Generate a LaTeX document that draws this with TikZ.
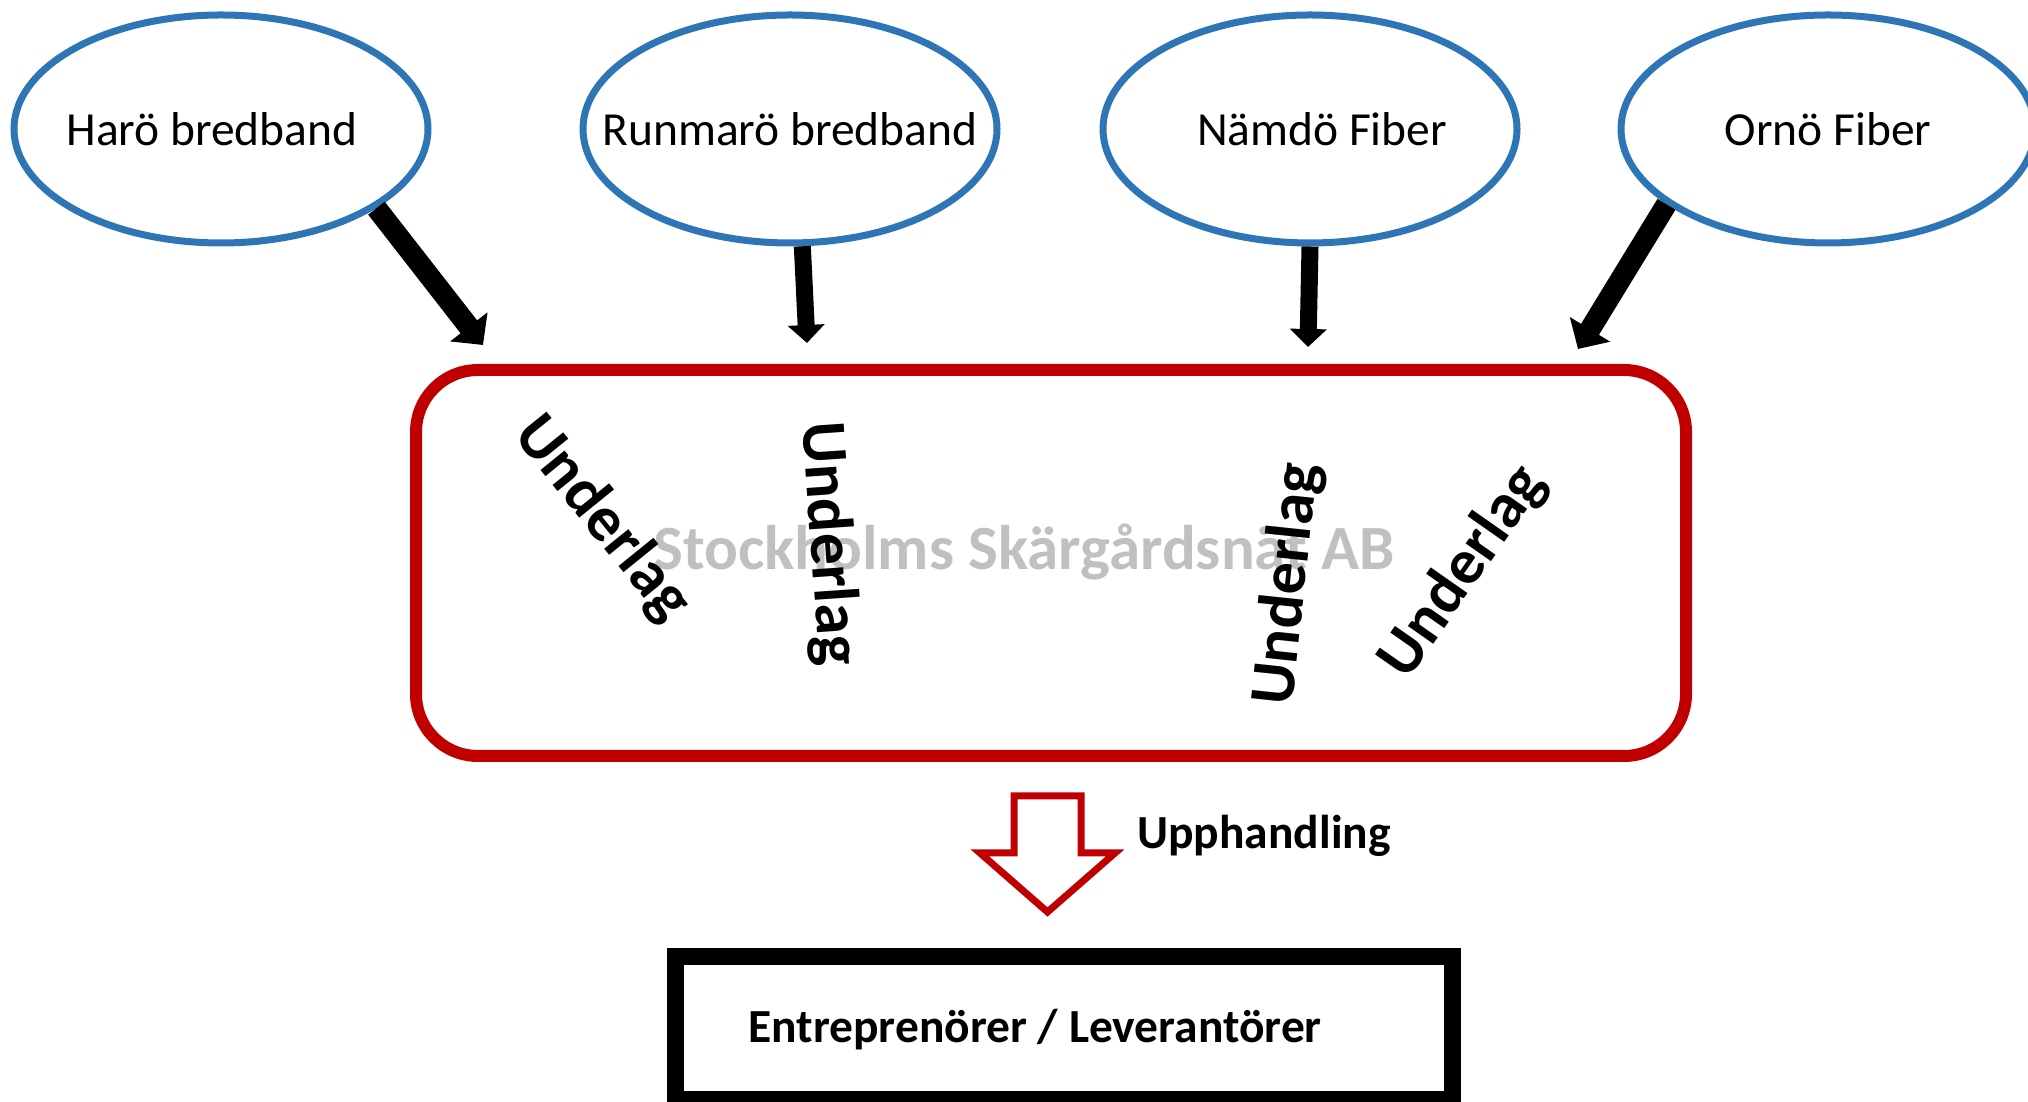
\documentclass[tikz,border=0pt]{standalone}
\usepackage{fontspec}
\setmainfont{Carlito}
\usepackage{tikz}
\usepackage{xcolor}
\usetikzlibrary{arrows.meta}
\usetikzlibrary{shapes.geometric}

\definecolor{coopblue}{HTML}{2E75B6}
\definecolor{ssnred}{HTML}{C00000}
\definecolor{ssngray}{HTML}{C0C0C0}

\begin{document}
\begin{tikzpicture}[x=0.5pt,y=0.5pt,
                    coop node/.style={ellipse,draw=coopblue,line width=3.5pt,inner sep=0pt,
                      minimum width=207pt,minimum height=114pt,font=\fontsize{23.75}{28}\selectfont},
                    basis/.style={inner sep=0pt,font=\fontsize{32}{38}\selectfont\bfseries},
                    feed/.style={line width=10.5pt,-{Triangle[width=23pt,length=11.5pt]}},
                    thin feed/.style={line width=8.5pt,-{Triangle[width=18pt,length=9pt]}}]

  \useasboundingbox (0,0) rectangle (2028,1102);

  % the four local networks
  \node[coop node] (haro) at (221,973) {\makebox[0pt]{\kern-9pt Harö bredband}};
  \node[coop node] (runmaro) at (790,973) {\makebox[0pt]{Runmarö bredband}};
  \node[coop node] (namdo) at (1310,973) {\makebox[0pt]{\kern12pt Nämdö Fiber}};
  \node[coop node] (orno) at (1828,973) {\makebox[0pt]{Ornö Fiber}};

  % the company
  \node[font=\fontsize{31.5}{38}\selectfont\bfseries,text=ssngray,anchor=base,inner sep=0pt]
    (ssnname) at (1024,532) {Stockholms Skärgårdsnät AB};
  \node[draw=ssnred,line width=6pt,rounded corners=31pt,
        minimum width=635pt,minimum height=193pt] (ssn) at (1051,539) {};

  \node[basis,rotate=-51] (u1) at (602,583) {Underlag};
  \node[basis,rotate=-86] (u2) at (828,558) {Underlag};
  \node[basis,rotate=84] (u3) at (1288,518) {Underlag};
  \node[basis,rotate=55] (u4) at (1463,530) {Underlag};

  \coordinate (t1) at (483,757);
  \coordinate (t2) at (807,759);
  \coordinate (t3) at (1308,755);
  \coordinate (t4) at (1578,753);

  \path
    (haro.-27) edge[feed] (t1)
    (runmaro.-84) edge[thin feed] (t2)
    (namdo.south) edge[thin feed] (t3)
    (orno.205) edge[feed] (t4)
    ;

  % procurement
  \draw[ssnred,line width=3.5pt,line join=miter]
    (1014,306) -- (1081,306) -- (1081,249) -- (1115,249) -- (1047.5,190)
    -- (980,249) -- (1014,249) -- cycle;
  \node[anchor=base west,inner sep=0pt,font=\fontsize{23.75}{28}\selectfont\bfseries]
    (upph) at (1137,253) {Upphandling};

  \node[draw,line width=8.5pt,minimum width=388.5pt,minimum height=71.5pt] (entr) at (1063.5,74) {};
  \node[anchor=base west,inner sep=0pt,font=\fontsize{23.75}{28}\selectfont\bfseries]
    (entrname) at (748,59) {Entreprenörer / Leverantörer};
\end{tikzpicture}
\end{document}
